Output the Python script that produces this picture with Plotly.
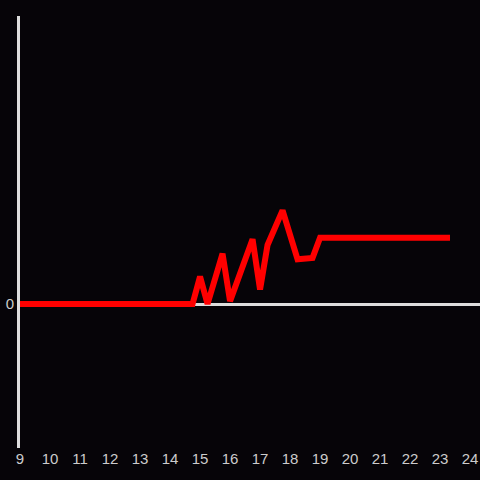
import plotly.graph_objects as go

hours = [9.0, 14.75, 15.0, 15.25, 15.75, 16.0, 16.75, 17.0, 17.25, 17.75, 18.25, 18.75, 19.0, 23.33]
values = [0.0, 0.0, 0.19, 0.0, 0.35, 0.02, 0.45, 0.10, 0.41, 0.65, 0.31, 0.32, 0.46, 0.46]
x_ticks = list(range(9, 25))

fig = go.Figure(go.Scatter(x=hours, y=values, mode="lines",
                           line=dict(color="#ff0000", width=6)))
fig.update_layout(
    width=480, height=480,
    paper_bgcolor="#060408", plot_bgcolor="#060408",
    margin=dict(l=20, r=0, t=16, b=32),
    showlegend=False,
    font=dict(family="Liberation Sans, Arial", size=15, color="#cccccc"),
)
fig.update_xaxes(range=[9, 24.33], tickvals=x_ticks, showgrid=False,
                 zeroline=False, showline=False, ticks="")
fig.update_yaxes(range=[-1, 2], tickvals=[0], showgrid=False,
                 zeroline=True, zerolinecolor="#dddddd", zerolinewidth=3,
                 showline=True, linecolor="#dddddd", linewidth=3, ticks="")
fig.write_html("out.html", config={"displayModeBar": False},
               post_script="document.body.style.margin='0';document.body.style.background='#060408';")
